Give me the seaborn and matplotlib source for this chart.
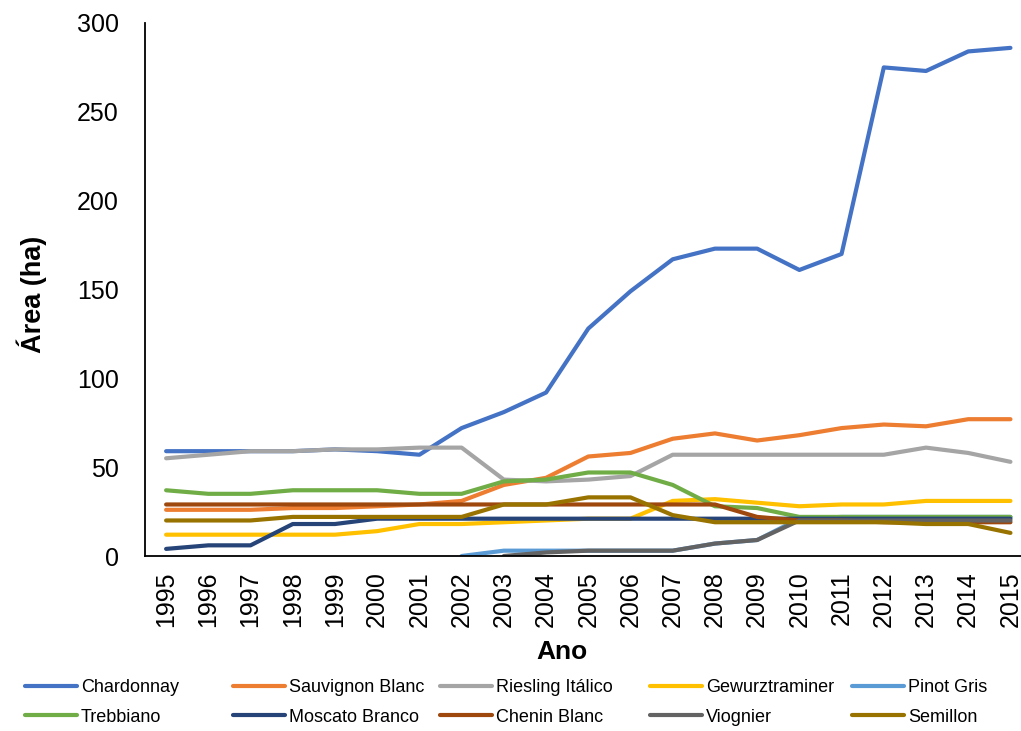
import numpy as np
import pandas as pd
import matplotlib
matplotlib.use("Agg")
import matplotlib.pyplot as plt
import seaborn as sns

# ========================================================
# Data (area in ha per grape variety, 1995-2015)
# ========================================================
years = list(range(1995, 2016))
nan = np.nan

chardonnay = [59, 59, 59, 59, 60, 59, 57, 72, 81, 92, 128, 149, 167, 173, 173, 161, 170, 275, 273, 284, 286]
sauvignon_blanc = [26, 26, 26, 27, 27, 28, 29, 31, 40, 44, 56, 58, 66, 69, 65, 68, 72, 74, 73, 77, 77]
riesling_italico = [55, 57, 59, 59, 60, 60, 61, 61, 43, 42, 43, 45, 57, 57, 57, 57, 57, 57, 61, 58, 53]
gewurztraminer = [12, 12, 12, 12, 12, 14, 18, 18, 19, 20, 21, 21, 31, 32, 30, 28, 29, 29, 31, 31, 31]
pinot_gris = [nan, nan, nan, nan, nan, nan, nan, 0, 3, 3, 3, 3, 3, 7, 9, 21, 22, 22, 22, 22, 22]
trebbiano = [37, 35, 35, 37, 37, 37, 35, 35, 42, 43, 47, 47, 40, 28, 27, 22, 22, 22, 22, 22, 22]
moscato_branco = [4, 6, 6, 18, 18, 21, 21, 21, 21, 21, 21, 21, 21, 21, 21, 21, 21, 21, 21, 21, 21]
chenin_blanc = [29, 29, 29, 29, 29, 29, 29, 29, 29, 29, 29, 29, 29, 29, 22, 20, 20, 19, 19, 19, 19]
viognier = [nan, nan, nan, nan, nan, nan, nan, nan, 0, 2, 3, 3, 3, 7, 9, 20, 20, 20, 20, 20, 20]
semillon = [20, 20, 20, 22, 22, 22, 22, 22, 29, 29, 33, 33, 23, 19, 19, 19, 19, 19, 18, 18, 13]

varieties = ["Chardonnay", "Sauvignon Blanc", "Riesling Itálico", "Gewurztraminer", "Pinot Gris",
             "Trebbiano", "Moscato Branco", "Chenin Blanc", "Viognier", "Semillon"]
series = [chardonnay, sauvignon_blanc, riesling_italico, gewurztraminer, pinot_gris,
          trebbiano, moscato_branco, chenin_blanc, viognier, semillon]
colors = ["#4472C4", "#ED7D31", "#A5A5A5", "#FFC000", "#5B9BD5",
          "#70AD47", "#264478", "#9E480E", "#636363", "#997300"]

rows = []
for name, vals in zip(varieties, series):
    for y, v in zip(years, vals):
        rows.append({"Ano": y, "Area": v, "Casta": name})
df = pd.DataFrame(rows).dropna()

# ========================================================
# Plot
# ========================================================
sns.set_style("white")
plt.rcParams["font.family"] = ["Liberation Sans", "DejaVu Sans"]
plt.rcParams["text.color"] = "black"
plt.rcParams["xtick.color"] = "black"
plt.rcParams["ytick.color"] = "black"
plt.rcParams["axes.labelcolor"] = "black"

fig = plt.figure(figsize=(10.21, 7.31), dpi=100)
ax = fig.add_axes([145 / 1021, 1 - 556 / 731, 1 - 145 / 1021, (556 - 23) / 731])

sns.lineplot(data=df, x="Ano", y="Area", hue="Casta", hue_order=varieties,
             palette=dict(zip(varieties, colors)), linewidth=3, ax=ax, legend=False)

ax.set_xlim(1994.5, 2015.25)
ax.set_ylim(0, 300)
ax.set_yticks(range(0, 301, 50))
ax.set_xticks(years)
ax.set_xticklabels([str(y) for y in years], rotation=90)
ax.set_xticks([y + 0.5 for y in years[:-1]] + [1994.5], minor=True)
ax.tick_params(axis="x", which="major", length=0, pad=11, labelsize=18)
ax.tick_params(axis="x", which="minor", length=6, width=1.2, direction="in")
ax.tick_params(axis="y", length=6, width=1.2, direction="in", labelsize=18, pad=19)

for side in ["top", "right"]:
    ax.spines[side].set_visible(False)
for side in ["left", "bottom"]:
    ax.spines[side].set_color("black")
    ax.spines[side].set_linewidth(1.3)

ax.set_xlabel("Ano", fontsize=19, fontweight="bold")
ax.xaxis.set_label_coords((562 - 145) / 876, -(640 - 556) / 533)
ax.set_ylabel("Área (ha)", fontsize=19.5, fontweight="bold")
ax.yaxis.set_label_coords(-(145 - 47) / 876, 0.49)

# Legend: one small legend per column so the columns sit where they do in the original
col_x = [25, 233, 440, 650, 852]
for k in range(5):
    idx = [k, k + 5]
    fig.legend([plt.Line2D([], [], color=colors[i], linewidth=3) for i in idx],
               [varieties[i] for i in idx],
               loc="upper left", bbox_to_anchor=(col_x[k] / 1021, 1 - 679 / 731),
               frameon=False, handlelength=2.9, handletextpad=0.2,
               labelspacing=0.7, borderpad=0, borderaxespad=0,
               prop={"family": ["Liberation Sans", "DejaVu Sans"], "size": 13})

fig.savefig("out.png", dpi=100)
